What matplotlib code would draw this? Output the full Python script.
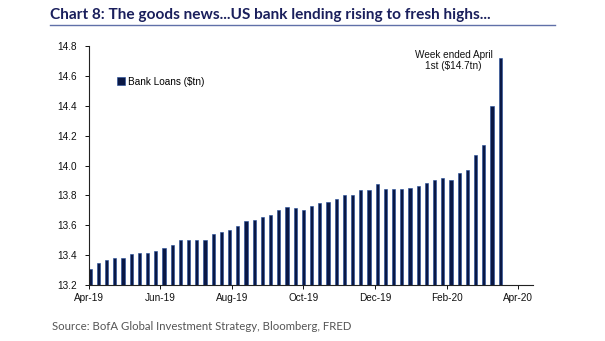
import matplotlib
matplotlib.use("Agg")
import matplotlib.pyplot as plt
import matplotlib.dates as mdates
from matplotlib.lines import Line2D
import pandas as pd

# ---- data ----
start_date = "2019-04-02"
n_weeks = 51
bank_loans = [13.307, 13.344, 13.369, 13.378, 13.382, 13.407, 13.413, 13.411, 13.429, 13.451,
              13.471, 13.500, 13.502, 13.502, 13.502, 13.540, 13.553, 13.571, 13.593, 13.629,
              13.638, 13.656, 13.671, 13.704, 13.724, 13.715, 13.704, 13.729, 13.747, 13.758,
              13.776, 13.800, 13.804, 13.838, 13.838, 13.876, 13.840, 13.844, 13.840, 13.849,
              13.862, 13.884, 13.900, 13.918, 13.904, 13.947, 13.973, 14.071, 14.136, 14.396,
              14.720]
y_ticks = [13.2, 13.4, 13.6, 13.8, 14.0, 14.2, 14.4, 14.6, 14.8]
x_tick_dates = ["2019-04-01", "2019-06-01", "2019-08-01", "2019-10-01",
                "2019-12-01", "2020-02-01", "2020-04-01"]
title = "Chart 8: The goods news...US bank lending rising to fresh highs..."
source = "Source: BofA Global Investment Strategy, Bloomberg, FRED"
series_label = "Bank Loans ($tn)"
note = "Week ended April\n1st ($14.7tn)"

LAB_FONT = "Liberation Sans"
HEAD_FONT = "Lato"

dates = pd.date_range(start_date, periods=n_weeks, freq="7D")

fig = plt.figure(figsize=(6.05, 3.41), dpi=100)
W, H = 605, 341
ax = fig.add_axes([89 / W, (H - 285) / H, (533 - 89) / W, (285 - 46) / H])

ax.bar(dates, bank_loans, width=2.7, color="#0a1845", edgecolor="#1f4a9a",
       linewidth=0.4, label=series_label, zorder=2)

ax.set_ylim(13.2, 14.8)
ax.set_yticks(y_ticks)
ax.set_yticklabels([f"{v:.1f}" for v in y_ticks])
ax.set_xlim(pd.Timestamp("2019-04-01"), pd.Timestamp("2020-04-14"))
ax.set_xticks(pd.to_datetime(x_tick_dates))
ax.xaxis.set_major_formatter(mdates.DateFormatter("%b-%y"))

for s in ["top", "right"]:
    ax.spines[s].set_visible(False)
for s in ["left", "bottom"]:
    ax.spines[s].set_color("#222222")
    ax.spines[s].set_linewidth(0.8)
ax.tick_params(axis="y", length=3, width=0.7, pad=6, colors="#111111")
ax.tick_params(axis="x", length=3, width=0.7, pad=3, colors="#111111")
for lab in ax.get_xticklabels() + ax.get_yticklabels():
    lab.set_fontfamily(LAB_FONT)
    lab.set_fontsize(7.2)

leg = ax.legend(loc="upper left", bbox_to_anchor=(0.064, 0.872), frameon=False,
                handlelength=0.8, handleheight=0.8, handletextpad=0.25,
                borderpad=0, borderaxespad=0,
                prop={"family": LAB_FONT, "size": 7.2})

ax.text(0.821, 0.938, note, transform=ax.transAxes, ha="center", va="center",
        fontsize=7.2, family=LAB_FONT, color="#111111", linespacing=1.1)

t_title = fig.text(50 / W, 1 - 15 / H, title, ha="left", va="center", fontsize=11,
                   fontweight="bold", family=HEAD_FONT, color="#1a1f5c")
fig.add_artist(Line2D([50 / W, 555 / W], [1 - 25 / H, 1 - 25 / H],
                      transform=fig.transFigure, color="#6070a8", linewidth=1.0))
t_src = fig.text(52 / W, 1 - 327 / H, source, ha="left", va="center", fontsize=9,
                 family=HEAD_FONT, color="#555555")


# fit text widths to the reference layout
def fit(t, target_px):
    r = fig.canvas.get_renderer()
    w = t.get_window_extent(renderer=r).width
    t.set_fontsize(t.get_fontsize() * target_px / w)


fig.canvas.draw()
fit(t_title, 440)
fit(t_src, 300)

fig.savefig("out.png", dpi=100)
